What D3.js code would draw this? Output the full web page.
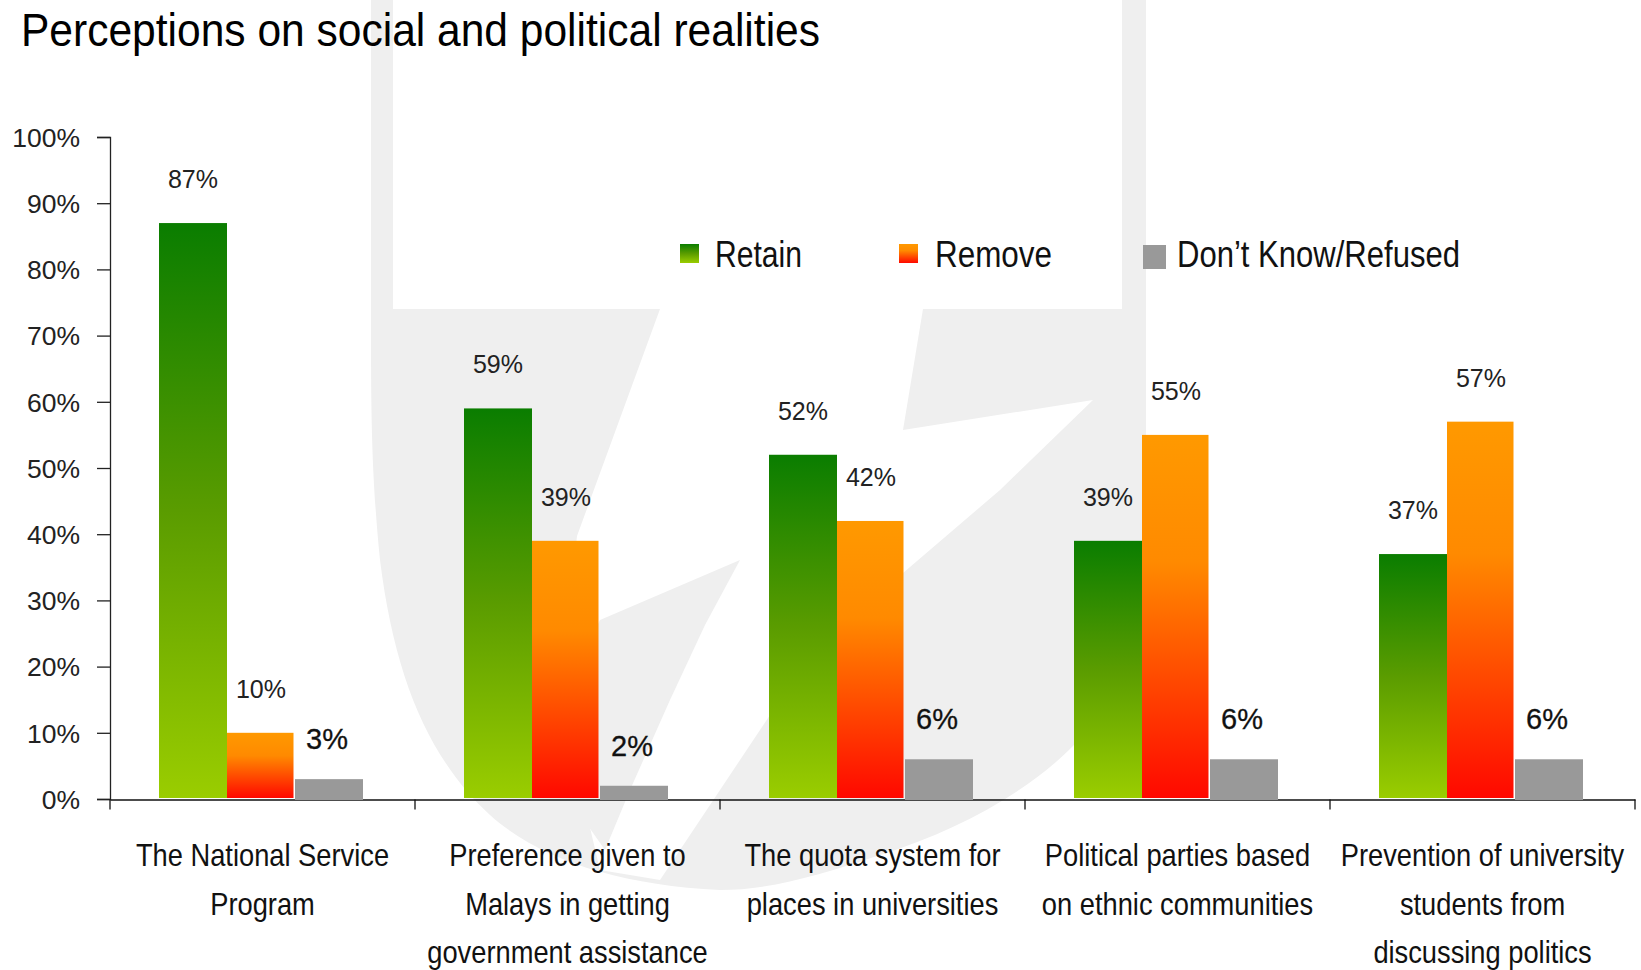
<!DOCTYPE html>
<html>
<head>
<meta charset="utf-8">
<script src="https://cdn.jsdelivr.net/npm/d3@7"></script>
<style>
  html, body { margin: 0; padding: 0; background: #fff; }
  svg { display: block; }
</style>
</head>
<body>
<svg id="chart" width="1641" height="970"></svg>
<script>
// ---------------- DATA ----------------
const categories = [
  "The National Service Program",
  "Preference given to Malays in getting government assistance",
  "The quota system for places in universities",
  "Political parties based on ethnic communities",
  "Prevention of university students from discussing politics"
];
const categoryLines = [
  ["The National Service", "Program"],
  ["Preference given to", "Malays in getting", "government assistance"],
  ["The quota system for", "places in universities"],
  ["Political parties based", "on ethnic communities"],
  ["Prevention of university", "students from", "discussing politics"]
];
const seriesNames = ["Retain", "Remove", "Don\u2019t Know/Refused"];
const retainValues = [87, 59, 52, 39, 37];
const removeValues = [10, 39, 42, 55, 57];
const dontKnowValues = [3, 2, 6, 6, 6];
const yTickValues = [0, 10, 20, 30, 40, 50, 60, 70, 80, 90, 100];
const titleText = "Perceptions on social and political realities";

// ---------------- SETUP ----------------
const svg = d3.select("#chart");
const narrow = "'Liberation Sans Narrow', 'Arial Narrow', 'Liberation Sans', Arial, sans-serif";
const regular = "'Liberation Sans', Arial, sans-serif";

svg.append("rect").attr("width", 1641).attr("height", 970).attr("fill", "#fff");

// gradients
const defs = svg.append("defs");
function grad(id, stops) {
  const g = defs.append("linearGradient").attr("id", id)
    .attr("x1", 0).attr("y1", 0).attr("x2", 0).attr("y2", 1);
  stops.forEach(s => g.append("stop").attr("offset", s[0]).attr("stop-color", s[1]));
}
grad("gGreen", [[0, "#0a7d00"], [0.5, "#5a9c00"], [1, "#9acd00"]]);
grad("gOrange", [[0, "#ff9900"], [0.35, "#ff8a00"], [1, "#ff0800"]]);
const fills = ["url(#gGreen)", "url(#gOrange)", "#999999"];

// ---------------- WATERMARK (faint logo) ----------------
const wm = svg.append("g").attr("class", "watermark");
wm.append("path").attr("fill", "#efefef")
  .attr("d", "M371,0 H393 V309 H1122 V0 H1146 V540 C1146,640 1110,710 1073,746 C1030,790 960,830 880,855 C820,875 770,890 720,890 C620,885 540,860 490,815 C430,760 395,680 380,560 C372,480 371,420 371,330 Z");
wm.append("path").attr("fill", "#ffffff")
  .attr("d", "M660,309 H923 L903,430 L1093,400 L1000,490 L903,573 L840,625 L780,700 L720,790 L660,880 L600,870 L560,700 L577,536 Z");
wm.append("path").attr("fill", "#efefef")
  .attr("d", "M740,560 L705,625 L670,700 L630,790 L605,850 L570,800 L560,700 L600,620 Z");

// ---------------- SCALES ----------------
const x0 = d3.scaleBand().domain(categories).range([110, 1635]).paddingInner(0).paddingOuter(0);
const x1 = d3.scaleBand().domain(seriesNames).range([49, 253]);
const y = d3.scaleLinear().domain([0, 100]).range([799, 137]);

// ---------------- AXES ----------------
const yAxis = d3.axisLeft(y).tickValues(yTickValues).tickFormat(d => d + "%")
  .tickSize(13).tickPadding(17);
const gy = svg.append("g").attr("transform", "translate(110,0)").call(yAxis);
gy.select(".domain").attr("stroke", "#222").attr("stroke-width", 1.3);
gy.selectAll(".tick line").attr("stroke", "#222").attr("stroke-width", 1.3);
gy.selectAll(".tick text").attr("font-family", regular).attr("font-size", 26.5)
  .attr("fill", "#222").attr("dy", "0.35em");

const xAxis = d3.axisBottom(x0).tickValues([]).tickSizeOuter(0);
const gx = svg.append("g").attr("transform", "translate(0,799.5)").call(xAxis);
gx.select(".domain").attr("stroke", "#111").attr("stroke-width", 1.5);
// category boundary ticks
const boundaries = categories.map(c => x0(c)).concat([x0.range()[1]]);
gx.selectAll(".bound").data(boundaries).enter().append("line")
  .attr("x1", d => d).attr("x2", d => d).attr("y1", 0).attr("y2", 10)
  .attr("stroke", "#111").attr("stroke-width", 1.3);

// category labels (horizontally condensed to mimic a narrow face)
const catG = svg.append("g");
categories.forEach((c, i) => {
  const cx = x0(c) + x0.bandwidth() / 2;
  categoryLines[i].forEach((line, j) => {
    catG.append("g")
      .attr("transform", `translate(${cx},${866 + j * 48.5}) scale(0.88,1)`)
      .append("text")
      .attr("x", 0).attr("y", 0)
      .attr("text-anchor", "middle")
      .attr("font-family", narrow).attr("font-size", 31).attr("fill", "#111")
      .text(line);
  });
});

// ---------------- BARS ----------------
const rows = categories.map((c, i) => ({
  cat: c,
  vals: [retainValues[i], removeValues[i], dontKnowValues[i]]
}));
const groups = svg.append("g").selectAll("g").data(rows).enter().append("g")
  .attr("transform", d => `translate(${x0(d.cat)},0)`);

groups.selectAll("rect").data(d => d.vals.map((v, k) => ({ v, k }))).enter().append("rect")
  .attr("x", d => x1(seriesNames[d.k]))
  .attr("width", d => x1.bandwidth() - (d.k === 1 ? 1.5 : 0))
  .attr("y", d => y(d.v))
  .attr("height", d => y(0) - y(d.v) - (d.k === 2 ? -1 : 1))
  .attr("fill", d => fills[d.k]);

// value labels
groups.selectAll("text.val").data(d => d.vals.map((v, k) => ({ v, k }))).enter().append("text")
  .attr("class", "val")
  .attr("x", d => x1(seriesNames[d.k]) + x1.bandwidth() / 2 - (d.k === 2 ? 2 : 0))
  .attr("y", d => y(d.v) - (d.k === 2 ? 30 : 35))
  .attr("text-anchor", "middle")
  .attr("font-family", regular)
  .attr("font-size", d => d.k === 2 ? 29 : 25)
  .attr("fill", d => d.k === 2 ? "#111" : "#222")
  .attr("stroke", d => d.k === 2 ? "#111" : "none")
  .attr("stroke-width", d => d.k === 2 ? 0.3 : 0)
  .text(d => d.v + "%");

// ---------------- TITLE ----------------
svg.append("text").attr("x", 21).attr("y", 46)
  .attr("font-family", narrow).attr("font-size", 46).attr("fill", "#000")
  .attr("textLength", 799).attr("lengthAdjust", "spacingAndGlyphs")
  .text(titleText);

// ---------------- LEGEND ----------------
const legendItems = [
  { name: seriesNames[0], fill: fills[0], sx: 680, sy: 244, sw: 19, sh: 19, tx: 715, tl: 87 },
  { name: seriesNames[1], fill: fills[1], sx: 899, sy: 244, sw: 19, sh: 19, tx: 935, tl: 117 },
  { name: seriesNames[2], fill: fills[2], sx: 1143, sy: 245, sw: 23, sh: 24, tx: 1177, tl: 283 }
];
const lg = svg.append("g");
legendItems.forEach(it => {
  lg.append("rect").attr("x", it.sx).attr("y", it.sy).attr("width", it.sw).attr("height", it.sh)
    .attr("fill", it.fill);
  lg.append("text").attr("x", it.tx).attr("y", 267)
    .attr("font-family", narrow).attr("font-size", 37).attr("fill", "#111")
    .attr("textLength", it.tl).attr("lengthAdjust", "spacingAndGlyphs")
    .text(it.name);
});
</script>
</body>
</html>
